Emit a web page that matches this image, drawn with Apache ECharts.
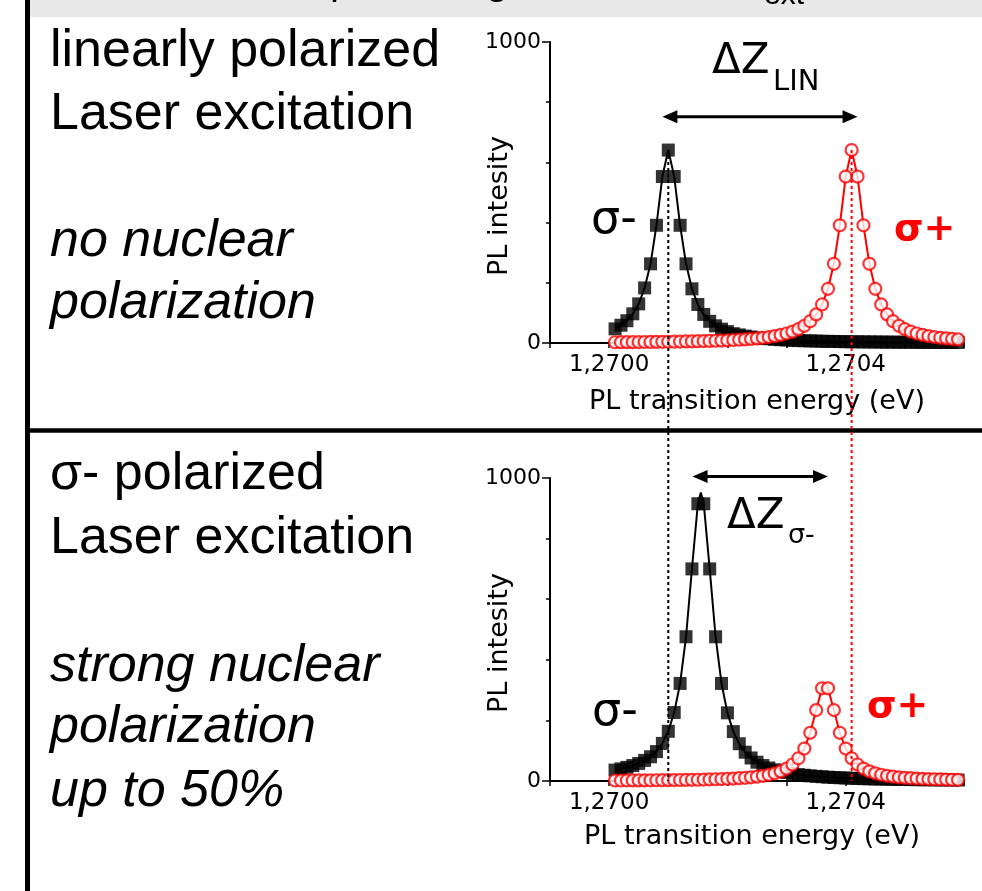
<!DOCTYPE html>
<html>
<head>
<meta charset="utf-8">
<script src="https://cdn.jsdelivr.net/npm/echarts@6/dist/echarts.min.js"></script>
<style>
html,body{margin:0;padding:0;background:#fff;}
#c{width:982px;height:891px;}
</style>
</head>
<body>
<div id="c"></div>
<script>
// ---- data ----
const energy = [
  1.27001,1.27002,1.27003,1.27004,1.27005,1.27006,1.27007,1.27008,1.27009,1.27010,
  1.27011,1.27012,1.27013,1.27014,1.27015,1.27016,1.27017,1.27018,1.27019,1.27020,
  1.27021,1.27022,1.27023,1.27024,1.27025,1.27026,1.27027,1.27028,1.27029,1.27030,
  1.27031,1.27032,1.27033,1.27034,1.27035,1.27036,1.27037,1.27038,1.27039,1.27040,
  1.27041,1.27042,1.27043,1.27044,1.27045,1.27046,1.27047,1.27048,1.27049,1.27050,
  1.27051,1.27052,1.27053,1.27054,1.27055,1.27056,1.27057,1.27058,1.27059
];
// linearly polarized excitation
const linSigmaMinus = [
  47,59,74,97,130,183,263,391,553,641,
  553,391,263,180,128,95,72,57,46,38,
  31,27,23,20,17,15,14,12,11,10,
  9,8,7.5,7,6.3,5.9,5.4,5.1,4.7,4.4,
  4.1,3.9,3.7,3.5,3.3,3.1,2.9,2.8,2.6,2.5,
  2.4,2.3,2.2,2.1,2.0,1.9,1.8,1.7,1.7
];
const linSigmaPlus = [
  2.5,2.6,2.8,2.9,3.1,3.3,3.5,3.7,3.9,4.1,
  4.4,4.7,5.1,5.4,5.9,6.3,6.9,7.5,8.2,9.0,
  9.9,10.9,12.1,13.6,15.3,17.3,19.8,22.9,26.7,31.5,
  37.7,46,57,72.5,95,128,180,263,391,553,
  641,553,391,263,180,128,95,72.5,57,46,
  37.7,31.5,26.7,22.9,19.8,17.3,15.3,13.6,12.1
];
// sigma- polarized excitation
const circSigmaMinus = [
  36,40,45,51,58,68,80,97,124,164,
  226,322,476,700,915,915,700,476,322,225,
  163,123,95,76,62,51,43,37,32,28,
  24,21,19,17,15.4,14,12.7,11.6,10.7,9.8,
  9.1,8.4,7.8,7.3,6.8,6.4,6.0,5.6,5.3,5.0,
  4.7,4.4,4.2,4.0,3.8,3.6,3.4,3.3,3.1
];
const circSigmaPlus = [
  1.6,1.7,1.8,1.9,2.0,2.1,2.3,2.4,2.6,2.8,
  3.0,3.3,3.6,3.9,4.2,4.7,5.1,5.7,6.4,7.1,
  8.1,9.2,10.5,12.2,14.4,17.1,20.6,25.3,31.8,41,
  54.5,75,107,159,234,306,306,234,159,107,
  75,54.5,41,31.8,25.3,20.6,17.1,14.4,12.2,10.5,
  9.2,8.1,7.1,6.4,5.7,5.1,4.7,4.2,3.9
];
// apex of the fitted curves in the lower panel (between two samples)
const circSigmaMinusApex = [1.270155, 952];
const circSigmaPlusApex = [1.270365, 318];

// tick labels
const xTickValues = [1.2700, 1.2704];
const xTickLabels = ['1,2700', '1,2704'];
const yTickValues = [0, 1000];
const yTickLabels = ['0', '1000'];

// annotation anchors in data units
const linPeakEnergies = [1.27010, 1.27041];
const linPeakHeight = 641;
const arrowLin = [[1.27009, 752], [1.27042, 752]];
const arrowSig = [[1.270141, 1005], [1.27037, 1005]];

// ---- chart ----
const pairs = ys => energy.map((x, i) => [x, ys[i]]);
const withApex = (ys, apex) => pairs(ys).concat([apex]).sort((a, b) => a[0] - b[0]);

const RED = '#ff0000';
const CHART_FONT = 'DejaVu Sans';

function xAxisCfg(gi) {
  return {
    type: 'value', gridIndex: gi, min: 1.2699, max: 1.2706, interval: 0.0001,
    axisLine: { show: true, lineStyle: { color: '#000', width: 2 } },
    axisTick: { show: true, length: 5, lineStyle: { color: '#000', width: 1.5 } },
    axisLabel: {
      color: '#000', fontFamily: CHART_FONT, fontSize: 23, margin: 11,
      formatter: v => {
        const k = xTickValues.findIndex(t => Math.abs(t - v) < 1e-9);
        return k >= 0 ? xTickLabels[k] : '';
      }
    },
    splitLine: { show: false }
  };
}
function yAxisCfg(gi) {
  return {
    type: 'value', gridIndex: gi, min: 0, max: 1000, interval: 1000,
    axisLine: { show: true, lineStyle: { color: '#000', width: 2 } },
    axisTick: { show: true, length: 8, lineStyle: { color: '#000', width: 1.5 } },
    minorTick: { show: true, splitNumber: 5, length: 4, lineStyle: { color: '#000', width: 1.5 } },
    axisLabel: {
      color: '#000', fontFamily: CHART_FONT, fontSize: 22, margin: 9,
      formatter: v => {
        const k = yTickValues.indexOf(Math.round(v));
        return k >= 0 ? yTickLabels[k] : '';
      }
    },
    splitLine: { show: false }
  };
}
function fitLine(gi, data, color, w) {
  return { type: 'line', xAxisIndex: gi, yAxisIndex: gi, data: data, symbol: 'none', showSymbol: false,
    lineStyle: { color: color, width: w }, silent: true, z: 2 };
}
function squares(gi, data) {
  return { type: 'scatter', xAxisIndex: gi, yAxisIndex: gi, data: data, symbol: 'rect', symbolSize: 13,
    itemStyle: { color: '#000' }, silent: true, z: 2 };
}
function circles(gi, data) {
  return { type: 'scatter', xAxisIndex: gi, yAxisIndex: gi, data: data, symbol: 'circle', symbolSize: 12,
    itemStyle: { color: '#fff', borderColor: RED, borderWidth: 2.2 }, silent: true, z: 2 };
}

const option = {
  animation: false,
  backgroundColor: '#fff',
  grid: [
    { left: 550, right: 18, top: 42, height: 301, outerBoundsMode: 'none', containLabel: false },
    { left: 550, right: 18, top: 478, height: 303, outerBoundsMode: 'none', containLabel: false }
  ],
  xAxis: [xAxisCfg(0), xAxisCfg(1)],
  yAxis: [yAxisCfg(0), yAxisCfg(1)],
  series: [
    fitLine(0, pairs(linSigmaMinus), '#000', 2),
    squares(0, pairs(linSigmaMinus)),
    fitLine(0, pairs(linSigmaPlus), RED, 2),
    circles(0, pairs(linSigmaPlus)),
    fitLine(1, withApex(circSigmaMinus, circSigmaMinusApex), '#000', 2),
    squares(1, pairs(circSigmaMinus)),
    fitLine(1, withApex(circSigmaPlus, circSigmaPlusApex), RED, 2),
    circles(1, pairs(circSigmaPlus))
  ]
};

const chart = echarts.init(document.getElementById('c'), null, { renderer: 'canvas' });
chart.setOption(option);

// ---- annotations ----
const px0 = p => chart.convertToPixel({ gridIndex: 0 }, p);
const px1 = p => chart.convertToPixel({ gridIndex: 1 }, p);

function txt(x, y, text, font, color, extra) {
  return Object.assign({
    type: 'text', x: x, y: y, z: 50,
    style: { text: text, font: font, fill: color || '#000',
      align: 'left', textAlign: 'left', verticalAlign: 'middle', textVerticalAlign: 'middle' }
  }, extra || {});
}
function ctxt(x, y, text, font, extra) {
  const e = txt(x, y, text, font, '#000', extra);
  e.style.align = 'center'; e.style.textAlign = 'center';
  return e;
}
function arrow(a, b) {
  const L = 15, W = 6.5;
  return [
    { type: 'line', z: 50, shape: { x1: a[0] + L - 2, y1: a[1], x2: b[0] - L + 2, y2: b[1] },
      style: { stroke: '#000', lineWidth: 3 } },
    { type: 'polygon', z: 50, shape: { points: [[a[0], a[1]], [a[0] + L, a[1] - W], [a[0] + L, a[1] + W]] },
      style: { fill: '#000' } },
    { type: 'polygon', z: 50, shape: { points: [[b[0], b[1]], [b[0] - L, b[1] - W], [b[0] - L, b[1] + W]] },
      style: { fill: '#000' } }
  ];
}

const LEFT_FONT = '52px "Liberation Sans"';
const LEFT_IT = 'italic 52px "Liberation Sans"';
const g = [];
// frame and header band
g.push({ type: 'rect', z: 1, shape: { x: 30, y: 0, width: 952, height: 17 }, style: { fill: '#e8e8e8' } });
g.push(txt(330, -17, 'p', '40px "Liberation Sans"'));
g.push(txt(486, -17, 'g', '40px "Liberation Sans"'));
g.push(txt(764, -4, 'ext', '30px "Liberation Sans"'));
g.push({ type: 'line', z: 60, shape: { x1: 27.5, y1: 0, x2: 27.5, y2: 891 }, style: { stroke: '#000', lineWidth: 5 } });
g.push({ type: 'line', z: 60, shape: { x1: 25, y1: 430.5, x2: 982, y2: 430.5 }, style: { stroke: '#000', lineWidth: 4.5 } });

// left descriptions
g.push(txt(50, 52, 'linearly polarized', LEFT_FONT));
g.push(txt(50, 115, 'Laser excitation', LEFT_FONT));
g.push(txt(50, 242, 'no nuclear', LEFT_IT));
g.push(txt(50, 304, 'polarization', LEFT_IT));
g.push(txt(50, 475, 'σ- polarized', LEFT_FONT));
g.push(txt(50, 539, 'Laser excitation', LEFT_FONT));
g.push(txt(50, 667, 'strong nuclear', LEFT_IT));
g.push(txt(50, 728, 'polarization', LEFT_IT));
g.push(txt(50, 792, 'up to 50%', LEFT_IT));

// axis names
const NAME_FONT = '27px "DejaVu Sans"';
g.push(ctxt(500, 206, 'PL intesity', NAME_FONT, { rotation: Math.PI / 2 }));
g.push(ctxt(500, 643, 'PL intesity', NAME_FONT, { rotation: Math.PI / 2 }));
g.push(ctxt(757, 402, 'PL transition energy (eV)', NAME_FONT));
g.push(ctxt(752, 837, 'PL transition energy (eV)', NAME_FONT));

// peak labels
g.push(txt(591, 221, 'σ-', '46px "DejaVu Sans"'));
g.push(txt(894, 230, 'σ+', 'bold 38px "DejaVu Sans"', RED));
g.push(txt(592, 713, 'σ-', '46px "DejaVu Sans"'));
g.push(txt(867, 707, 'σ+', 'bold 38px "DejaVu Sans"', RED));
// Delta Z labels
g.push(txt(712, 62, 'ΔZ', '42px "DejaVu Sans"'));
g.push(txt(773, 82, 'LIN', '29px "DejaVu Sans"'));
g.push(txt(727, 517, 'ΔZ', '42px "DejaVu Sans"'));
g.push(txt(788, 536, 'σ-', '27px "DejaVu Sans"'));

// arrows
arrow(px0(arrowLin[0]), px0(arrowLin[1])).forEach(e => g.push(e));
arrow(px1(arrowSig[0]), px1(arrowSig[1])).forEach(e => g.push(e));

// dotted guide lines through the peaks of the linear case
linPeakEnergies.forEach((e, k) => {
  const a = px0([e, linPeakHeight]);
  const b = px1([e, 0]);
  g.push({ type: 'line', z: 100, shape: { x1: a[0], y1: a[1], x2: b[0], y2: b[1] },
    style: { stroke: k === 0 ? '#000' : RED, lineWidth: 2, lineDash: [3, 3] } });
});

chart.setOption({ graphic: { elements: g } });
</script>
</body>
</html>
